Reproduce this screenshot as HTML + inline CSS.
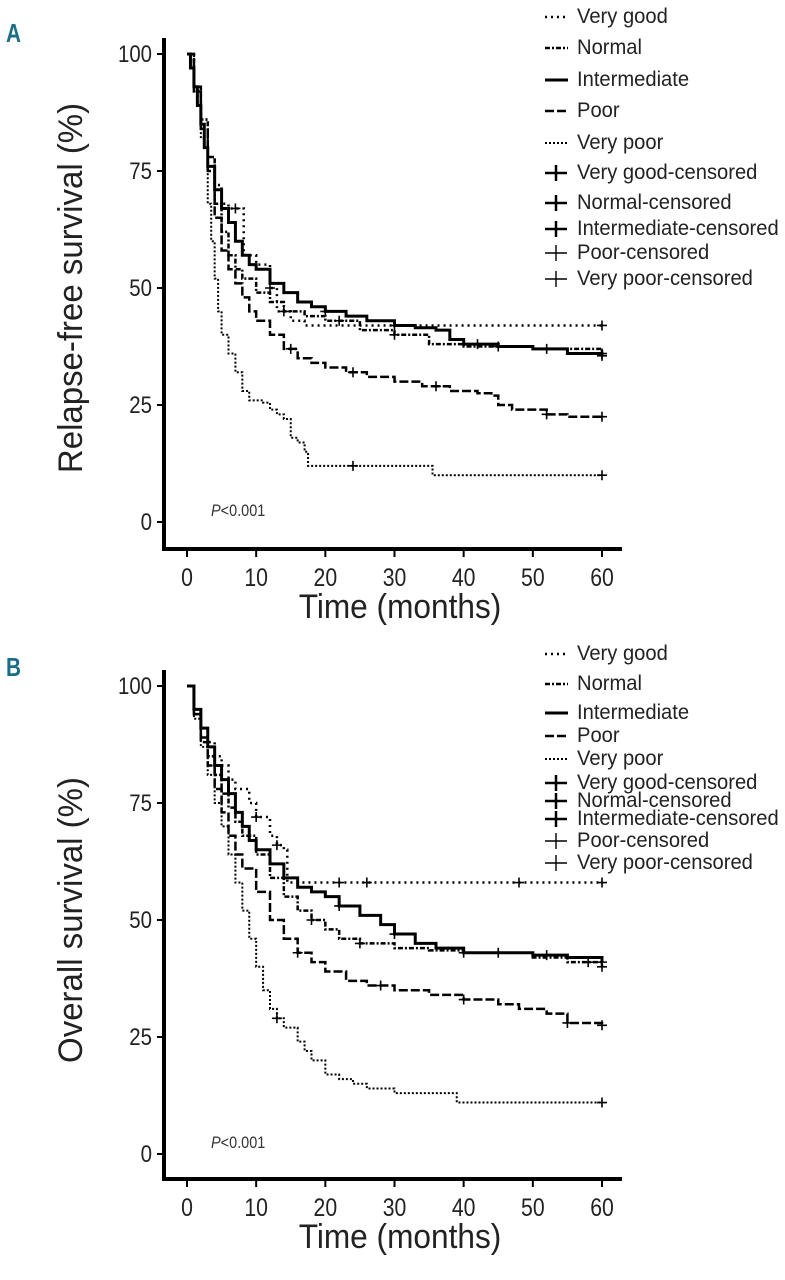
<!DOCTYPE html>
<html><head><meta charset="utf-8">
<style>
html,body{margin:0;padding:0;background:#fff;}
svg{display:block;font-family:"Liberation Sans",sans-serif;}
</style></head>
<body>
<svg id="chart" width="785" height="1280" viewBox="0 0 785 1280" xmlns="http://www.w3.org/2000/svg"></svg>
<script>
const xTicks = [0,10,20,30,40,50,60];
const yTicks = [0,25,50,75,100];
const seriesNames = ["Very good","Normal","Intermediate","Poor","Very poor"];
const legendLabels = ["Very good","Normal","Intermediate","Poor","Very poor","Very good-censored","Normal-censored","Intermediate-censored","Poor-censored","Very poor-censored"];

// Panel A: relapse-free survival (time, %)
const aVeryGoodT = [0,1,2,3,4,5,6,8,8.2,10,12,13,15,17,60];
const aVeryGoodS = [100,93,86,78,72,68,67,67,57,55,50,45,43,42,42];
const aNormalT = [0,1,2,3,4,5,6,7,8,10,12,14,17,20,25,30,35,40,50,60];
const aNormalS = [100,93,86,78,68,62,57,54,52,49,47,45,44,43,41,40,38,37.5,37,36];
const aInterT = [0,0.5,1,1.5,2,2.5,3,4,5,6,7,8,9,10,12,14,16,18,20,23,26,30,33,36,38,40,45,50,55,60];
const aInterS = [100,97,93,89,85,80,76,71,67,64,60,57,55,54,51,49,47,46,45,44,43,42,41.5,41,39,38,37.5,37,36,35.5];
const aPoorT = [0,1,2,3,4,5,6,7,8,9,10,12,14,16,18,20,23,26,30,34,38,42,44,45,47,52,55,60];
const aPoorS = [100,92,84,75,65,58,54,51,48,45,43,40,37,35,34,33,32,31,30,29,28,27.5,27,25,24,23,22.5,22.5];
const aVPoorT = [0,1,2,3,3.5,4,4.5,5,6,7,8,9,11,12,13,14,15,16,17,17.5,35,35.5,60];
const aVPoorS = [100,92,82,68,60,52,45,40,36,32,28,26,25.5,24,23,22,18,17,15,12,12,10,10];
const aCensor = [[7,12,60],[14,22,30,45,60],[20,30,42,52,60],[15,24,36,52,60],[24,60]];

// Panel B: overall survival
const bVeryGoodT = [0,1,2,3,4,5,6,7,9,10,12,13,14,14.5,60];
const bVeryGoodS = [100,95,91,88,85,83,80,78,75,72,68,66,65,58,58];
const bNormalT = [0,1,2,3,4,5,6,7,8,10,12,14,16,18,20,22,25,30,35,40,50,55,60];
const bNormalS = [100,94,89,85,81,77,74,71,68,64,59,55,52,50,48,46,45,44,43.5,43,42,41,40];
const bInterT = [0,1,2,3,4,5,6,7,8,9,10,12,14,16,18,20,22,25,28,30,33,36,40,45,50,55,60];
const bInterS = [100,95,91,87,83,80,77,73,70,67,65,62,59,57,56,55,53,51,49,47,45,44,43,43,42.5,42,41];
const bPoorT = [0,1,2,3,4,5,6,7,8,10,12,14,16,18,20,23,26,30,35,40,45,48,52,55,60];
const bPoorS = [100,94,88,83,78,73,68,64,61,56,50,46,43,41,39,37,36,35,34,33,32,31,30,28,27.5];
const bVPoorT = [0,1,2,3,4,5,6,7,8,9,10,11,12,13,14,16,17,18,20,22,24,26,30,38,39,60];
const bVPoorS = [100,93,87,81,75,70,64,58,52,46,40,35,31,29,27,24,22,20,17,16,15,14,13,13,11,11];
const bCensor = [[10,13,22,26,48,60],[18,25,40,58,60],[22,30,45,52,60],[16,28,40,55,60],[13,60]];

const NS="http://www.w3.org/2000/svg";
const svg=document.getElementById('chart');
function mk(tag,attrs,parent){const e=document.createElementNS(NS,tag);for(const k in attrs)e.setAttribute(k,attrs[k]);(parent||svg).appendChild(e);return e;}
const toCondense=[];

const styles=[
 {dash:"2,4",w:2.5},
 {dash:"5,2,2,2",w:2.5},
 {dash:"",w:3},
 {dash:"9,3",w:2.5},
 {dash:"2,2",w:2}
];

function stepVal(T,S,t){let v=S[0];for(let i=0;i<T.length;i++){if(T[i]<=t)v=S[i];}return v;}

function panel(cfg){
 const g=mk('g',{});
 
 
 const xs=t=>cfg.x0+(cfg.x1-cfg.x0)*t/60;
 const ys=v=>cfg.y0+(cfg.y100-cfg.y0)*v/100;
 const L=mk('text',{x:6,y:cfg.letterY,'font-size':26,'font-weight':'bold',fill:'#1a6e8a'},g);
 L.textContent=cfg.letter;
 
 
 toCondense.push([L,0.8]);
 const ya=mk('line',{x1:cfg.axX,y1:ys(100)-16,x2:cfg.axX,y2:cfg.axY+2,stroke:'#000','stroke-width':4},g);
 
 
 const xa=mk('line',{x1:cfg.axX-2,y1:cfg.axY,x2:622,y2:cfg.axY,stroke:'#000','stroke-width':4},g);
 
 
 yTicks.forEach(v=>{
  mk('line',{x1:cfg.axX-7,y1:ys(v),x2:cfg.axX,y2:ys(v),stroke:'#000','stroke-width':2},g);
  const t=mk('text',{x:cfg.axX-12,y:ys(v)+8,'font-size':24,'text-anchor':'end',fill:'#222'},g);
  t.textContent=v;
  
  
  toCondense.push([t,0.85]);
 });
 xTicks.forEach(v=>{
  mk('line',{x1:xs(v),y1:cfg.axY,x2:xs(v),y2:cfg.axY+8,stroke:'#000','stroke-width':2},g);
  const t=mk('text',{x:xs(v),y:cfg.axY+37,'font-size':25,'text-anchor':'middle',fill:'#222'},g);
  t.textContent=v;
  
  
  toCondense.push([t,0.85]);
 });
 const xt=mk('text',{x:400,y:cfg.axY+69,'font-size':34,'text-anchor':'middle',fill:'#222'},g);
 xt.textContent='Time (months)';
 
 
 toCondense.push([xt,0.93]);
 const yt=mk('text',{x:0,y:0,'font-size':34,'text-anchor':'middle',fill:'#222',transform:`translate(82,${(ys(100)+ys(0))/2}) rotate(-90)`},g);
 yt.textContent=cfg.ytitle;
 
 
 toCondense.push([yt,0.97]);
 const p=mk('text',{x:211,y:ys(0)-6,'font-size':17,fill:'#333'},g);
 p.innerHTML='<tspan font-style="italic">P</tspan>&lt;0.001';
 
 
 toCondense.push([p,0.85]);
 cfg.series.forEach((s,i)=>{
  let d=`M${xs(s.T[0])},${ys(s.S[0])}`;
  for(let k=1;k<s.T.length;k++){d+=` H${xs(s.T[k])} V${ys(s.S[k])}`;}
  const path=mk('path',{d:d,fill:'none',stroke:'#000','stroke-width':styles[i].w,'stroke-dasharray':styles[i].dash},g);
  
  
  cfg.censor[i].forEach(t=>{
   const cx=xs(t),cy=ys(stepVal(s.T,s.S,t));
   const c=mk('path',{d:`M${cx-5},${cy} H${cx+5} M${cx},${cy-5} V${cy+5}`,stroke:'#000','stroke-width':1.6},g);
   
   
  });
 });
 cfg.legY.forEach((ly,i)=>{
  const lg=mk('g',{},g);
  
  
  if(i<5){
   mk('line',{x1:545,y1:ly-6,x2:568,y2:ly-6,stroke:'#000','stroke-width':styles[i].w,'stroke-dasharray':styles[i].dash},lg);
  } else {
   mk('path',{d:`M545,${ly-6} H567 M556,${ly-14} V${ly+2}`,stroke:'#000','stroke-width':i<8?2.5:1.4},lg);
  }
  const t=mk('text',{x:577,y:ly,'font-size':21,fill:'#222'},lg);
  t.textContent=legendLabels[i];
  toCondense.push([t,0.96]);
 });
}

panel({name:'panel-a-relapse-free',letter:'A',letterY:42,x0:187,x1:602,y0:522,y100:54,axX:164,axY:549,
 ytitle:'Relapse-free survival (%)',
 series:[{T:aVeryGoodT,S:aVeryGoodS},{T:aNormalT,S:aNormalS},{T:aInterT,S:aInterS},{T:aPoorT,S:aPoorS},{T:aVPoorT,S:aVPoorS}],
 censor:aCensor,
 legY:[23,54,86,117,149,179,209,235,259,285]});
panel({name:'panel-b-overall',letter:'B',letterY:676,x0:187,x1:602,y0:1154,y100:686,axX:164,axY:1179,
 ytitle:'Overall survival (%)',
 series:[{T:bVeryGoodT,S:bVeryGoodS},{T:bNormalT,S:bNormalS},{T:bInterT,S:bInterS},{T:bPoorT,S:bPoorS},{T:bVPoorT,S:bVPoorS}],
 censor:bCensor,
 legY:[660,690,719,742,765,789,807,825,847,869]});

toCondense.forEach(([t,f])=>{
 const len=t.getComputedTextLength();
 if(len>0){t.setAttribute('textLength',(len*f).toFixed(1));t.setAttribute('lengthAdjust','spacingAndGlyphs');}
});
</script>
</body></html>
